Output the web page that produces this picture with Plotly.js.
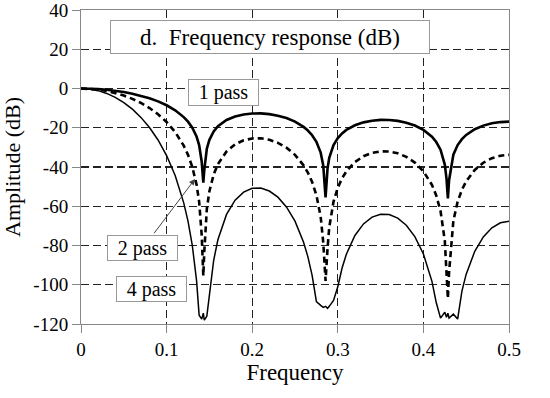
<!DOCTYPE html>
<html>
<head>
<meta charset="utf-8">
<script src="https://cdn.plot.ly/plotly-3.0.1.min.js"></script>
<style>html,body{margin:0;padding:0;background:#fff;}#chart{width:550px;height:398px;}</style>
</head>
<body>
<div id="chart"></div>
<script>
// Frequency samples (fraction of sampling rate)
const freq = [0, 0.01, 0.02, 0.03, 0.04, 0.05, 0.06, 0.07, 0.08, 0.09, 0.10, 0.11, 0.12, 0.125, 0.13, 0.135, 0.138, 0.141, 0.1429, 0.144, 0.147, 0.15, 0.155, 0.16, 0.17, 0.18, 0.19, 0.20, 0.21, 0.22, 0.23, 0.24, 0.25, 0.26, 0.265, 0.27, 0.275, 0.28, 0.283, 0.2857, 0.288, 0.29, 0.295, 0.30, 0.305, 0.31, 0.32, 0.33, 0.34, 0.35, 0.36, 0.37, 0.38, 0.39, 0.40, 0.41, 0.415, 0.42, 0.425, 0.427, 0.4286, 0.43, 0.435, 0.44, 0.445, 0.45, 0.46, 0.47, 0.48, 0.49, 0.50];

// Amplitude in dB, 1 pass
const pass1 = [0, -0.07, -0.28, -0.63, -1.13, -1.79, -2.63, -3.68, -4.97, -6.56, -8.54, -11.09, -14.57, -16.90, -19.97, -24.48, -28.81, -37.32, -48, -41.71, -30.70, -26.16, -21.88, -19.24, -16.04, -14.23, -13.20, -12.72, -12.69, -13.06, -13.84, -15.08, -16.90, -19.58, -21.41, -23.81, -27.16, -32.68, -39.19, -55.5, -40.80, -35.38, -28.82, -25.26, -22.87, -21.12, -18.72, -17.25, -16.39, -16.01, -16.05, -16.51, -17.42, -18.87, -21.08, -24.57, -27.27, -31.17, -38.77, -45.90, -56, -46.75, -33.74, -28.83, -25.80, -23.65, -20.74, -18.91, -17.75, -17.11, -16.90];

// Amplitude in dB, 2 pass
const pass2 = [0, -0.14, -0.55, -1.25, -2.26, -3.58, -5.27, -7.36, -9.94, -13.12, -17.08, -22.18, -29.13, -33.80, -39.94, -48.96, -57.62, -74.64, -95.5, -83.42, -61.40, -52.32, -43.76, -38.48, -32.08, -28.46, -26.40, -25.44, -25.38, -26.12, -27.68, -30.16, -33.80, -39.16, -42.82, -47.62, -54.32, -65.36, -78.38, -98, -81.60, -70.76, -57.64, -50.52, -45.74, -42.24, -37.44, -34.50, -32.78, -32.02, -32.10, -33.02, -34.84, -37.74, -42.16, -49.14, -54.54, -62.34, -77.54, -91.8, -107, -93.5, -67.48, -57.66, -51.60, -47.30, -41.48, -37.82, -35.50, -34.22, -33.80];

// Amplitude in dB, 4 pass
const pass4 = [0, -0.28, -1.10, -2.51, -4.51, -7.16, -10.54, -14.72, -19.88, -26.24, -34.17, -44.36, -58.26, -67.6, -79.88, -97.92, -115.5, -117.5, -114.5, -118, -116, -104.64, -87.52, -76.96, -64.16, -56.92, -52.80, -50.88, -50.76, -52.24, -55.36, -60.32, -67.60, -78.32, -85.64, -95.24, -108.6, -110.5, -111.5, -111, -112, -111, -108, -101.04, -91.48, -84.48, -74.88, -69.00, -65.56, -64.04, -64.20, -66.04, -69.68, -75.48, -84.32, -98.28, -109.08, -117, -114, -116.5, -114.5, -117, -115, -117.5, -103.2, -94.6, -82.96, -75.64, -71.00, -68.44, -67.60];

const xTickVals = [0, 0.1, 0.2, 0.3, 0.4, 0.5];
const xTickText = ["0", "0.1", "0.2", "0.3", "0.4", "0.5"];
const yTickVals = [40, 20, 0, -20, -40, -60, -80, -100, -120];
const yTickText = ["40", "20", "0", "-20", "-40", "-60", "-80", "-100", "-120"];

const serif = "Liberation Serif";

const traces = [
  {x: freq, y: pass4, mode: "lines", name: "4 pass", line: {color: "#000", width: 1.5}},
  {x: freq, y: pass2, mode: "lines", name: "2 pass", line: {color: "#000", width: 2.6, dash: "6px,4px"}},
  {x: freq, y: pass1, mode: "lines", name: "1 pass", line: {color: "#000", width: 2.6}}
];

const boxStyle = {bgcolor: "#fff", bordercolor: "#999", borderwidth: 1, borderpad: 0, showarrow: false, font: {family: serif, size: 20, color: "#000"}};

const layout = {
  width: 550, height: 398,
  margin: {l: 81, r: 41, t: 10, b: 74},
  paper_bgcolor: "#fff", plot_bgcolor: "#fff",
  showlegend: false,
  font: {family: serif, color: "#000"},
  xaxis: {
    range: [0, 0.5], tickvals: xTickVals, ticktext: xTickText,
    showline: true, linecolor: "#888", linewidth: 1, mirror: true,
    ticks: "outside", ticklen: 8, tickcolor: "#888",
    showgrid: true, gridcolor: "#222", gridwidth: 1.2, griddash: "8px,4px",
    zeroline: false, tickfont: {family: serif, size: 19, color: "#000"},
    ticklabeloverflow: "allow",
    title: {text: "Frequency", font: {family: serif, size: 23, color: "#000"}, standoff: 4}
  },
  yaxis: {
    range: [-120, 40], tickvals: yTickVals, ticktext: yTickText,
    showline: true, linecolor: "#888", linewidth: 1, mirror: true,
    ticks: "outside", ticklen: 8, tickcolor: "#888",
    showgrid: true, gridcolor: "#222", gridwidth: 1.2, griddash: "8px,4px",
    zeroline: false, tickfont: {family: serif, size: 19, color: "#000"},
    ticklabeloverflow: "allow",
    title: {text: "Amplitude (dB)", font: {family: serif, size: 22, color: "#000"}, standoff: 6}
  },
  annotations: [
    Object.assign({}, boxStyle, {x: 0.2208, y: 26.2, xref: "x", yref: "y", text: "d.\u00a0 Frequency response (dB)", width: 318, height: 32, font: {family: serif, size: 23, color: "#000"}}),
    Object.assign({}, boxStyle, {x: 0.1665, y: -2.0, xref: "x", yref: "y", text: "1 pass", width: 69, height: 25}),
    Object.assign({}, boxStyle, {x: 0.0713, y: -81.3, xref: "x", yref: "y", text: "2 pass", width: 69, height: 24}),
    Object.assign({}, boxStyle, {x: 0.0829, y: -102.2, xref: "x", yref: "y", text: "4 pass", width: 69, height: 24}),
    {x: 0.1332, y: -46.1, xref: "x", yref: "y", ax: 0.0841, ay: -74.5, axref: "x", ayref: "y", text: "", showarrow: true, arrowhead: 2, arrowsize: 1.2, arrowwidth: 1, arrowcolor: "#444"}
  ]
};

Plotly.newPlot("chart", traces, layout, {displayModeBar: false, staticPlot: true});
</script>
</body>
</html>
